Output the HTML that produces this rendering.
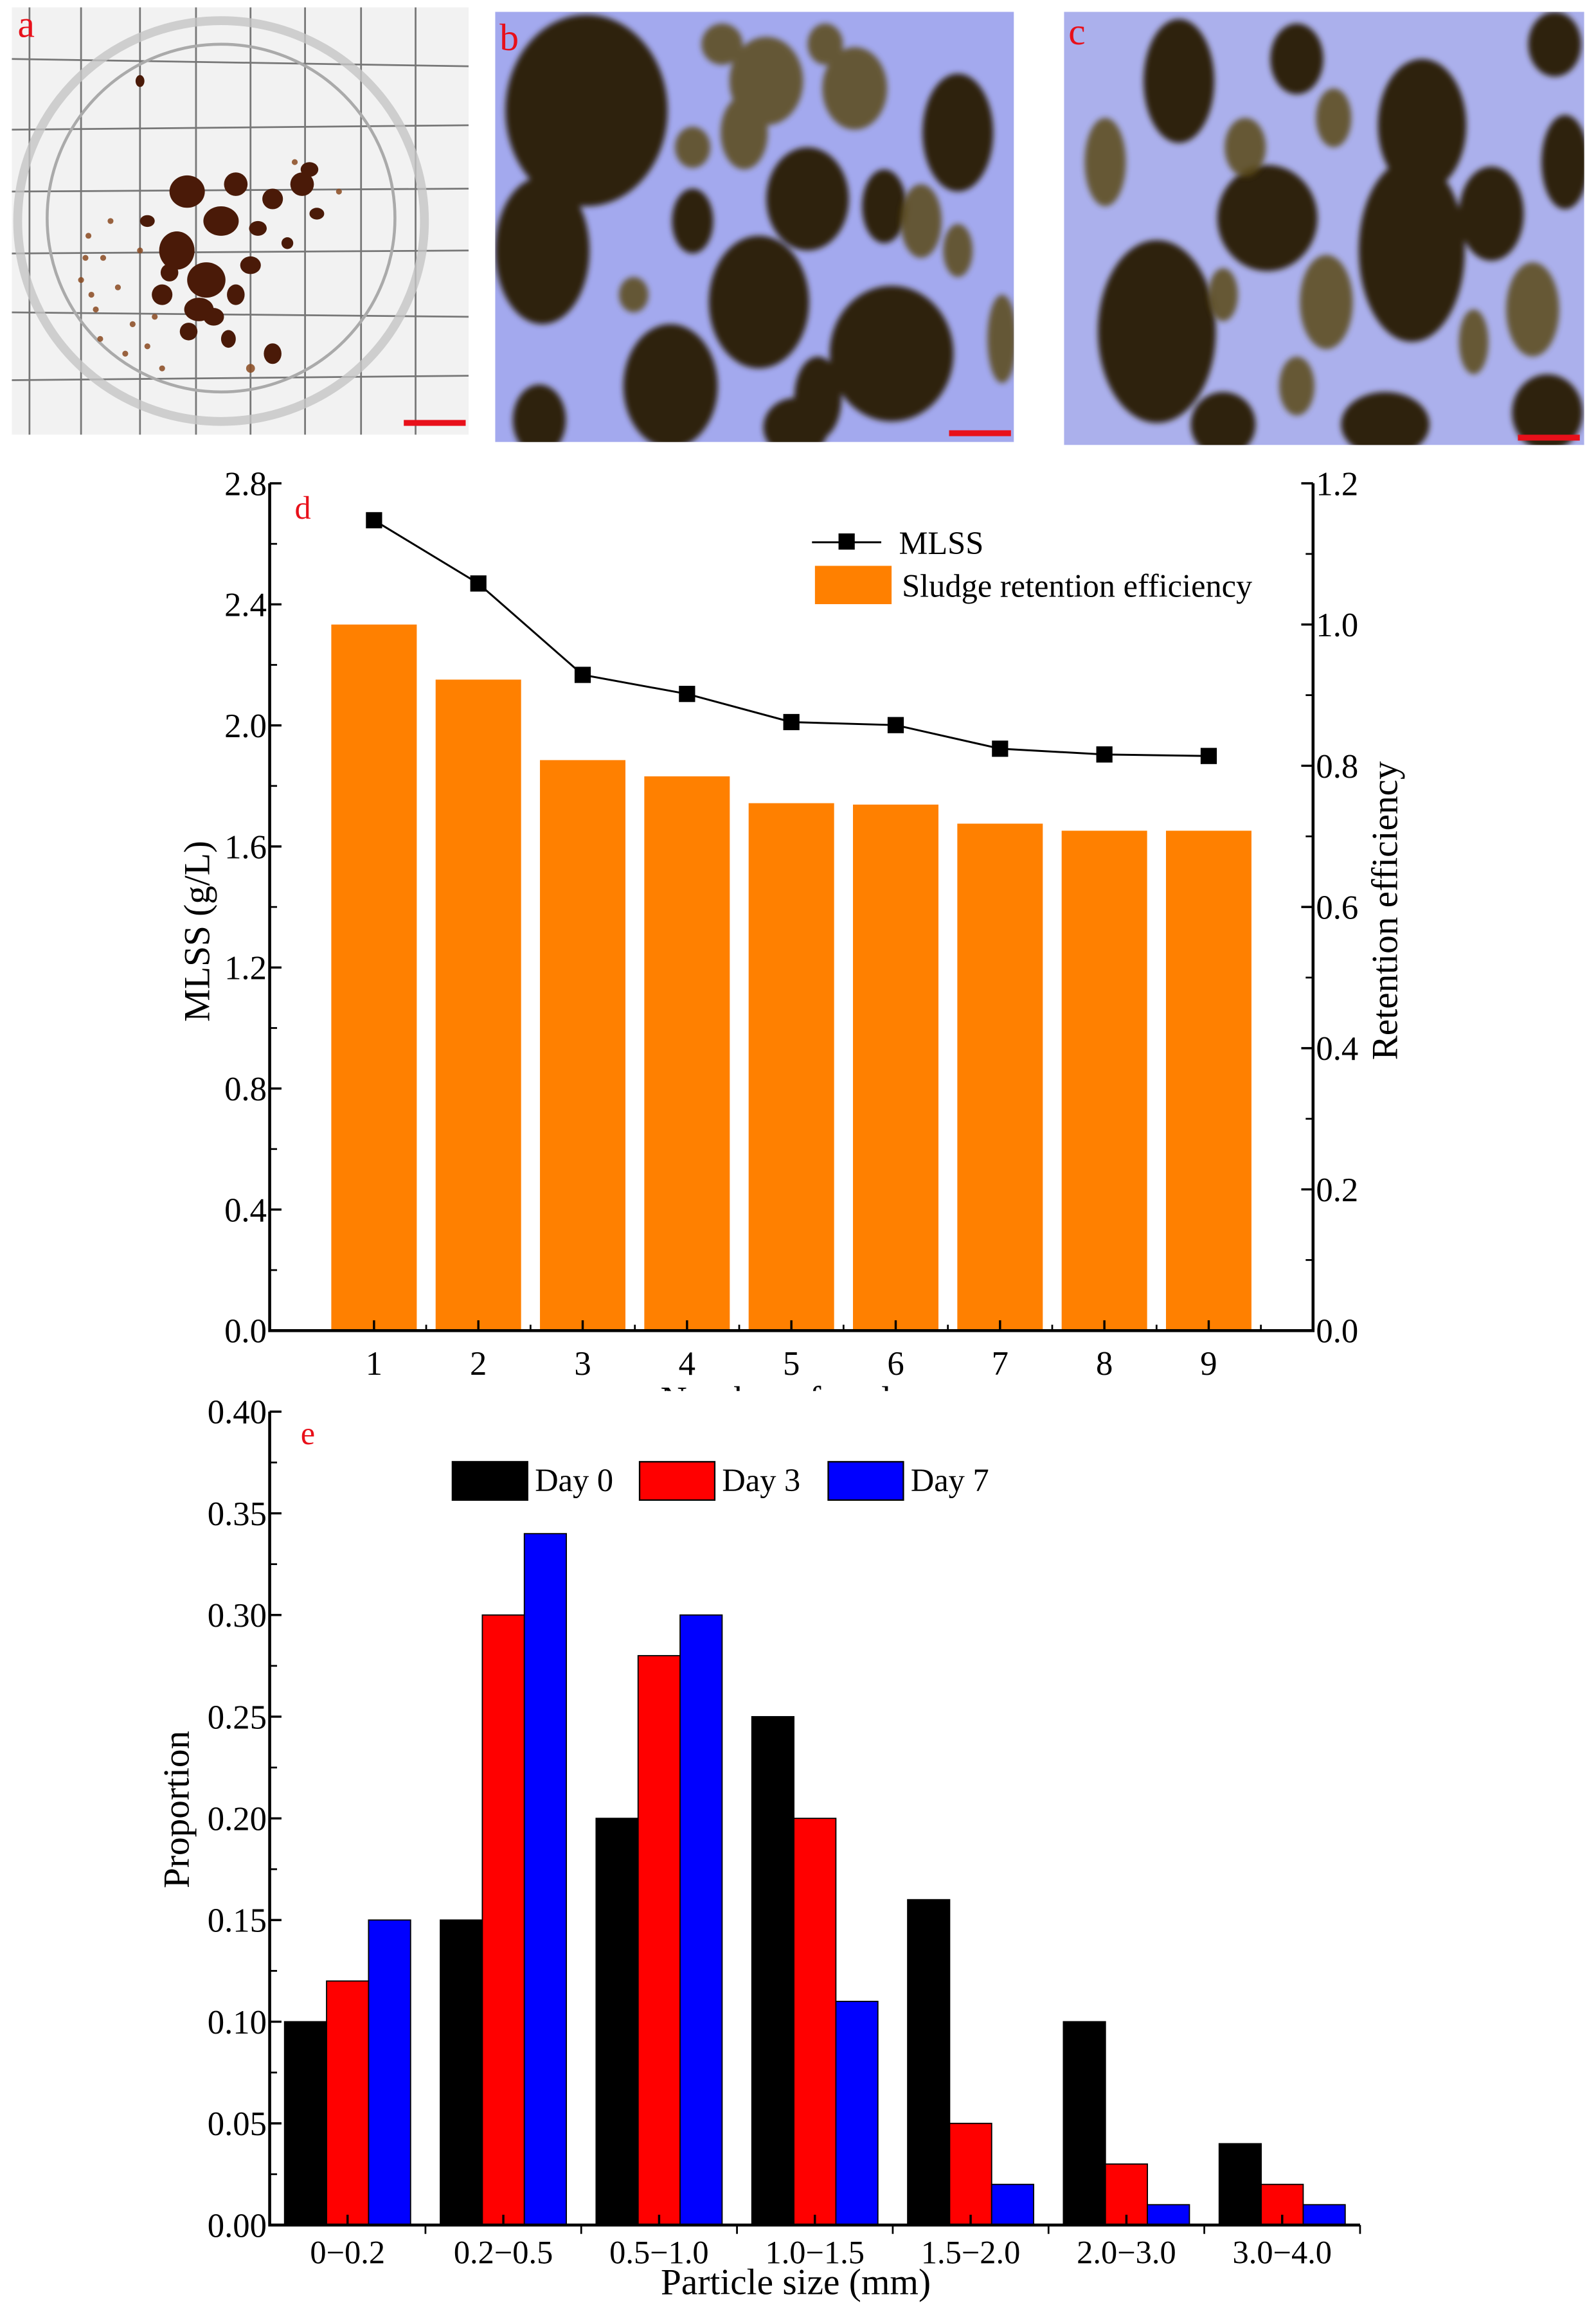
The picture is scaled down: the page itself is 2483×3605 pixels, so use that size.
<!DOCTYPE html>
<html><head><meta charset="utf-8">
<style>
html,body{margin:0;padding:0;background:#fff;}
svg{display:block;font-family:"Liberation Serif","DejaVu Serif",serif;}
svg text{font-family:"Liberation Serif",serif;}
</style></head>
<body>
<svg id="fig" width="2483" height="3605" viewBox="0 0 1083 1572.4" preserveAspectRatio="none" xmlns="http://www.w3.org/2000/svg">
  <defs>
    <clipPath id="clipA"><rect x="8" y="5" width="310" height="290"/></clipPath>
    <clipPath id="clipB"><rect x="336" y="8" width="352" height="292"/></clipPath>
    <clipPath id="clipC"><rect x="722" y="8" width="353" height="294"/></clipPath>
    <clipPath id="clipXt"><rect x="0" y="930" width="1083" height="14"/></clipPath>
    <filter id="blur"><feGaussianBlur stdDeviation="2"/></filter>
  </defs>

  <!-- Photo a -->
  <g clip-path="url(#clipA)">
    <rect x="8" y="5" width="310" height="290" fill="#f2f2f2"/>
    <g stroke="#777" stroke-width="1.2">
      <line x1="20" y1="5" x2="20" y2="295"/><line x1="55" y1="5" x2="55" y2="295"/>
      <line x1="95" y1="5" x2="95" y2="295"/><line x1="133" y1="5" x2="133" y2="295"/>
      <line x1="170" y1="5" x2="170" y2="295"/><line x1="207" y1="5" x2="207" y2="295"/>
      <line x1="245" y1="5" x2="245" y2="295"/><line x1="282" y1="5" x2="282" y2="295"/>
      <line x1="8" y1="40" x2="318" y2="45"/><line x1="8" y1="88" x2="318" y2="85"/>
      <line x1="8" y1="130" x2="318" y2="128"/><line x1="8" y1="172" x2="318" y2="170"/>
      <line x1="8" y1="212" x2="318" y2="215"/><line x1="8" y1="258" x2="318" y2="255"/>
    </g>
    <ellipse cx="150" cy="150" rx="138" ry="136" fill="none" stroke="#c4c4c4" stroke-width="6" opacity="0.8"/>
    <ellipse cx="150" cy="148" rx="118" ry="118" fill="none" stroke="#aaa" stroke-width="2"/>
    <g fill="#4a1a08">
      <ellipse cx="127" cy="130" rx="12" ry="11"/><ellipse cx="150" cy="150" rx="12" ry="10"/>
      <ellipse cx="120" cy="170" rx="12" ry="13"/><ellipse cx="140" cy="190" rx="13" ry="12"/>
      <ellipse cx="160" cy="125" rx="8" ry="8"/><ellipse cx="185" cy="135" rx="7" ry="7"/>
      <ellipse cx="205" cy="125" rx="8" ry="8"/><ellipse cx="110" cy="200" rx="7" ry="7"/>
      <ellipse cx="170" cy="180" rx="7" ry="6"/><ellipse cx="185" cy="240" rx="6" ry="7"/>
      <ellipse cx="95" cy="55" rx="3" ry="4"/><ellipse cx="135" cy="210" rx="10" ry="8"/>
      <ellipse cx="100" cy="150" rx="5" ry="4"/><ellipse cx="215" cy="145" rx="5" ry="4"/>
      <ellipse cx="145" cy="215" rx="7" ry="6"/><ellipse cx="160" cy="200" rx="6" ry="7"/>
      <ellipse cx="115" cy="185" rx="6" ry="6"/><ellipse cx="175" cy="155" rx="6" ry="5"/>
      <ellipse cx="128" cy="225" rx="6" ry="6"/><ellipse cx="155" cy="230" rx="5" ry="6"/>
      <ellipse cx="195" cy="165" rx="4" ry="4"/><ellipse cx="210" cy="115" rx="6" ry="5"/>
    </g>
    <g fill="#8a4a20" opacity="0.85">
      <circle cx="60" cy="160" r="2"/><circle cx="70" cy="175" r="2"/><circle cx="55" cy="190" r="2"/>
      <circle cx="80" cy="195" r="2"/><circle cx="65" cy="210" r="2"/><circle cx="90" cy="220" r="2"/>
      <circle cx="100" cy="235" r="2"/><circle cx="75" cy="150" r="2"/><circle cx="230" cy="130" r="2"/>
      <circle cx="170" cy="250" r="3"/><circle cx="200" cy="110" r="2"/><circle cx="110" cy="250" r="2"/>
      <circle cx="62" cy="200" r="2"/><circle cx="68" cy="230" r="2"/><circle cx="85" cy="240" r="2"/>
      <circle cx="58" cy="175" r="2"/><circle cx="95" cy="170" r="2"/><circle cx="105" cy="215" r="2"/>
    </g>
    <rect x="274" y="285" width="42" height="4" fill="#e8101a"/>
    <text x="12" y="25" fill="#e8101a" font-size="26">a</text>
  </g>

  <!-- Photo b -->
  <g clip-path="url(#clipB)">
    <rect x="336" y="8" width="352" height="292" fill="#a3a9ee"/>
    <g fill="#2e2208" filter="url(#blur)">
      <ellipse cx="398" cy="75" rx="55" ry="65"/><ellipse cx="368" cy="170" rx="32" ry="50"/>
      <ellipse cx="515" cy="205" rx="34" ry="45"/><ellipse cx="605" cy="240" rx="42" ry="46"/>
      <ellipse cx="455" cy="262" rx="32" ry="42"/><ellipse cx="548" cy="135" rx="28" ry="35"/>
      <ellipse cx="650" cy="90" rx="24" ry="40"/><ellipse cx="470" cy="150" rx="14" ry="22"/>
      <ellipse cx="540" cy="290" rx="22" ry="20"/><ellipse cx="366" cy="285" rx="18" ry="24"/>
      <ellipse cx="600" cy="140" rx="15" ry="25"/><ellipse cx="555" cy="270" rx="16" ry="28"/>
    </g>
    <g fill="#5a4a14" opacity="0.85" filter="url(#blur)">
      <ellipse cx="520" cy="55" rx="25" ry="30"/><ellipse cx="580" cy="60" rx="22" ry="28"/>
      <ellipse cx="625" cy="150" rx="14" ry="25"/><ellipse cx="470" cy="100" rx="12" ry="14"/>
      <ellipse cx="650" cy="170" rx="10" ry="18"/><ellipse cx="430" cy="200" rx="10" ry="12"/>
      <ellipse cx="560" cy="30" rx="12" ry="14"/><ellipse cx="680" cy="230" rx="10" ry="30"/>
      <ellipse cx="505" cy="90" rx="16" ry="25"/><ellipse cx="490" cy="30" rx="14" ry="14"/>
    </g>
    <rect x="644" y="292" width="42" height="4" fill="#e8101a"/>
    <text x="339" y="34" fill="#e8101a" font-size="26">b</text>
  </g>

  <!-- Photo c -->
  <g clip-path="url(#clipC)">
    <rect x="722" y="8" width="353" height="294" fill="#abb0ec"/>
    <g fill="#2e2208" filter="url(#blur)">
      <ellipse cx="785" cy="225" rx="40" ry="62"/><ellipse cx="965" cy="85" rx="30" ry="45"/>
      <ellipse cx="958" cy="170" rx="36" ry="62"/><ellipse cx="860" cy="148" rx="34" ry="36"/>
      <ellipse cx="1012" cy="145" rx="22" ry="32"/><ellipse cx="800" cy="55" rx="24" ry="42"/>
      <ellipse cx="1062" cy="110" rx="16" ry="32"/><ellipse cx="880" cy="40" rx="18" ry="24"/>
      <ellipse cx="940" cy="288" rx="30" ry="22"/><ellipse cx="1050" cy="280" rx="24" ry="26"/>
      <ellipse cx="830" cy="288" rx="22" ry="22"/><ellipse cx="1055" cy="30" rx="18" ry="22"/>
    </g>
    <g fill="#5a4a14" opacity="0.85" filter="url(#blur)">
      <ellipse cx="845" cy="100" rx="14" ry="20"/><ellipse cx="900" cy="205" rx="18" ry="32"/>
      <ellipse cx="1040" cy="210" rx="18" ry="32"/><ellipse cx="750" cy="110" rx="14" ry="30"/>
      <ellipse cx="880" cy="262" rx="12" ry="20"/><ellipse cx="1000" cy="232" rx="10" ry="22"/>
      <ellipse cx="905" cy="80" rx="12" ry="20"/><ellipse cx="830" cy="200" rx="10" ry="18"/>
    </g>
    <rect x="1030" y="295" width="42" height="4" fill="#e8101a"/>
    <text x="725" y="30" fill="#e8101a" font-size="26">c</text>
  </g>

  <g id="chartD"></g>
  <g id="chartE"></g>
</svg>

<script>
// ---------- Chart d data ----------
const dCycles = [1,2,3,4,5,6,7,8,9];
const dRetention = [1.0,0.922,0.808,0.785,0.747,0.745,0.718,0.708,0.708];
const dMLSS = [2.678,2.469,2.167,2.104,2.011,2.001,1.923,1.904,1.899];
const dLeftTicks = ["0.0","0.4","0.8","1.2","1.6","2.0","2.4","2.8"];
const dRightTicks = ["0.0","0.2","0.4","0.6","0.8","1.0","1.2"];

// ---------- Chart e data ----------
const eCategories = ["0\u22120.2","0.2\u22120.5","0.5\u22121.0","1.0\u22121.5","1.5\u22122.0","2.0\u22123.0","3.0\u22124.0"];
const eDay0 = [0.10,0.15,0.20,0.25,0.16,0.10,0.04];
const eDay3 = [0.12,0.30,0.28,0.20,0.05,0.03,0.02];
const eDay7 = [0.15,0.34,0.30,0.11,0.02,0.01,0.01];
const eTicks = ["0.00","0.05","0.10","0.15","0.20","0.25","0.30","0.35","0.40"];

const NS = "http://www.w3.org/2000/svg";
function mk(parent, tag, attrs, text) {
  const el = document.createElementNS(NS, tag);
  for (const k in attrs) el.setAttribute(k, attrs[k]);
  if (text !== undefined) el.textContent = text;
  parent.appendChild(el);
  return el;
}

// ===== Chart d =====
(function(){
  const g = document.getElementById('chartD');
  const L = 183, R = 891, T = 328, B = 903;
  const x = v => L + (R - L) * v / 10;
  const yL = v => B - (B - T) * v / 2.8;
  const yR = v => B - (B - T) * v / 1.2;
  const bw = 58;
  dCycles.forEach((c, i) => {
    const r = mk(g, 'rect', {x: x(c) - bw/2, y: yR(dRetention[i]), width: bw, height: B - yR(dRetention[i]), fill: '#ff8000'});
    
    
  });
  const ax = mk(g, 'path', {d: `M${L},${T} V${B} H${R} V${T}`, fill: 'none', stroke: '#000', 'stroke-width': 2});
  
  
  dLeftTicks.forEach((t) => {
    const v = parseFloat(t), yy = yL(v);
    mk(g, 'line', {x1: L, y1: yy, x2: L + 8, y2: yy, stroke: '#000', 'stroke-width': 1.5});
    const tx = mk(g, 'text', {x: L - 2, y: yy + 8, 'text-anchor': 'end', 'font-size': 23}, t);
    
    
    if (v < 2.8) { const ym = yL(v + 0.2); mk(g, 'line', {x1: L, y1: ym, x2: L + 5, y2: ym, stroke: '#000', 'stroke-width': 1.2}); }
  });
  dRightTicks.forEach((t) => {
    const v = parseFloat(t), yy = yR(v);
    mk(g, 'line', {x1: R, y1: yy, x2: R - 8, y2: yy, stroke: '#000', 'stroke-width': 1.5});
    const tx = mk(g, 'text', {x: R + 2, y: yy + 8, 'text-anchor': 'start', 'font-size': 23}, t);
    
    
    if (v < 1.2) { const ym = yR(v + 0.1); mk(g, 'line', {x1: R, y1: ym, x2: R - 5, y2: ym, stroke: '#000', 'stroke-width': 1.2}); }
  });
  dCycles.forEach(c => {
    mk(g, 'line', {x1: x(c), y1: B, x2: x(c), y2: B - 7, stroke: '#000', 'stroke-width': 1.5});
    mk(g, 'line', {x1: x(c) + (R-L)/20, y1: B, x2: x(c) + (R-L)/20, y2: B - 4, stroke: '#000', 'stroke-width': 1.2});
    const tx = mk(g, 'text', {x: x(c), y: B + 30, 'text-anchor': 'middle', 'font-size': 23}, String(c));
    
    
  });
  const pts = dCycles.map((c, i) => `${x(c)},${yL(dMLSS[i])}`).join(' ');
  const pl = mk(g, 'polyline', {points: pts, fill: 'none', stroke: '#000', 'stroke-width': 1.3});
  
  
  dCycles.forEach((c, i) => {
    const m = mk(g, 'rect', {x: x(c) - 5.5, y: yL(dMLSS[i]) - 5.5, width: 11, height: 11, fill: '#000'});
    
    
  });
  const pd = mk(g, 'text', {x: 200, y: 352, fill: '#e8101a', 'font-size': 22}, 'd');
  
  
  const lg = mk(g, 'g', {});
  
  
  mk(lg, 'line', {x1: 551, y1: 368, x2: 598, y2: 368, stroke: '#000', 'stroke-width': 1.3});
  mk(lg, 'rect', {x: 569, y: 362, width: 11, height: 11, fill: '#000'});
  const l1 = mk(lg, 'text', {x: 610, y: 376, 'font-size': 22}, 'MLSS');
  
  
  mk(lg, 'rect', {x: 553, y: 384, width: 52, height: 26, fill: '#ff8000'});
  const l2 = mk(lg, 'text', {x: 612, y: 405, 'font-size': 22}, 'Sludge retention efficiency');
  
  
  const yt = mk(g, 'text', {x: 0, y: 0, 'font-size': 25, 'text-anchor': 'middle', transform: 'translate(142,632) rotate(-90)'}, 'MLSS (g/L)');
  
  
  const yt2 = mk(g, 'text', {x: 0, y: 0, 'font-size': 25, 'text-anchor': 'middle', transform: 'translate(948,618) rotate(-90)'}, 'Retention efficiency');
  
  
  const xtg = mk(g, 'g', {'clip-path': 'url(#clipXt)'});
  const xt = mk(xtg, 'text', {x: 537, y: 958, 'font-size': 25, 'text-anchor': 'middle'}, 'Number of cycles');
  
  
})();

// ===== Chart e =====
(function(){
  const g = document.getElementById('chartE');
  const L = 183, T = 958, B = 1510;
  const step = 105.7;
  const R = L + step * eCategories.length;
  const gx = i => L + step * (i + 0.5);
  const y = v => B - (B - T) * v / 0.40;
  const bw = 28.5;
  const series = [[eDay0, '#000000', 'day0'], [eDay3, '#ff0000', 'day3'], [eDay7, '#0000ff', 'day7']];
  series.forEach((s, si) => {
    s[0].forEach((v, i) => {
      const bx = gx(i) - 1.5 * bw + si * bw;
      const r = mk(g, 'rect', {x: bx, y: y(v), width: bw, height: B - y(v), fill: s[1], stroke: '#000', 'stroke-width': 0.8});
      
      
    });
  });
  const ax = mk(g, 'path', {d: `M${L},${T} V${B} H${R}`, fill: 'none', stroke: '#000', 'stroke-width': 2});
  
  
  eTicks.forEach(t => {
    const v = parseFloat(t), yy = y(v);
    mk(g, 'line', {x1: L, y1: yy, x2: L + 8, y2: yy, stroke: '#000', 'stroke-width': 1.5});
    const tx = mk(g, 'text', {x: L - 2, y: yy + 8, 'text-anchor': 'end', 'font-size': 23}, t);
    
    
    if (v < 0.40) { const ym = y(v + 0.025); mk(g, 'line', {x1: L, y1: ym, x2: L + 5, y2: ym, stroke: '#000', 'stroke-width': 1.2}); }
  });
  eCategories.forEach((c, i) => {
    mk(g, 'line', {x1: gx(i), y1: B, x2: gx(i), y2: B - 7, stroke: '#000', 'stroke-width': 1.5});
    mk(g, 'line', {x1: L + step * (i + 1), y1: B, x2: L + step * (i + 1), y2: B + 6, stroke: '#000', 'stroke-width': 1.2});
    const tx = mk(g, 'text', {x: gx(i), y: B + 26, 'text-anchor': 'middle', 'font-size': 22}, c);
    
    
  });
  const pe = mk(g, 'text', {x: 204, y: 980, fill: '#e8101a', 'font-size': 22}, 'e');
  
  
  const lg = mk(g, 'g', {});
  
  
  const legendLabels = ['Day 0', 'Day 3', 'Day 7'];
  const legendX = [307, 434, 562];
  series.forEach((s, si) => {
    mk(lg, 'rect', {x: legendX[si], y: 992, width: 51, height: 26, fill: s[1], stroke: '#000', 'stroke-width': 1});
    const t = mk(lg, 'text', {x: legendX[si] + 56, y: 1012, 'font-size': 22}, legendLabels[si]);
    
    
  });
  const yt = mk(g, 'text', {x: 0, y: 0, 'font-size': 25, 'text-anchor': 'middle', transform: 'translate(128,1228) rotate(-90)'}, 'Proportion');
  
  
  const xt = mk(g, 'text', {x: 540, y: 1557, 'font-size': 25, 'text-anchor': 'middle'}, 'Particle size (mm)');
  
  
})();
</script>
</body></html>
